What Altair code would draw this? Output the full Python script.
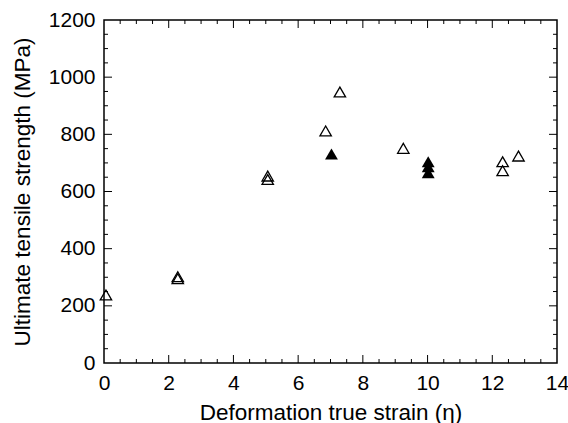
import altair as alt
import pandas as pd

# Data
open_x = [0.06, 2.28, 2.28, 5.06, 5.06, 6.85, 7.29, 9.25, 12.32, 12.32, 12.81]
open_y = [238, 302, 295, 654, 642, 812, 948, 751, 704, 673, 724]
filled_x = [7.03, 10.02, 10.02, 10.02]
filled_y = [731, 704, 687, 666]

x_labels = [0, 2, 4, 6, 8, 10, 12, 14]
y_labels = [0, 200, 400, 600, 800, 1000, 1200]
x_major = [2, 4, 6, 8, 10, 12]
x_minor = [0.5, 1, 1.5, 2.5, 3, 3.5, 4.5, 5, 5.5, 6.5, 7, 7.5, 8.5, 9, 9.5,
           10.5, 11, 11.5, 12.5, 13, 13.5]
y_major = [200, 400, 600, 800, 1000]
y_minor = [50, 100, 150, 250, 300, 350, 450, 500, 550, 650, 700, 750, 850,
           900, 950, 1050, 1100, 1150]

W, H = 453, 343
FONT = "Liberation Sans"
MAJ, MIN = 8, 4

xs = alt.Scale(domain=[0, 14], nice=False, zero=False)
ys = alt.Scale(domain=[0, 1200], nice=False, zero=False)

open_df = pd.DataFrame({"x": open_x, "y": open_y})
filled_df = pd.DataFrame({"x": filled_x, "y": filled_y})

x_axis = alt.Axis(values=x_labels, format="d", title="Deformation true strain (\u03b7)", grid=False,
                  ticks=False, domain=False, labelFlush=False, labelFontSize=21, labelFont=FONT,
                  labelColor="black", labelPadding=9, titleFontSize=22.5, titleFont=FONT,
                  titleFontWeight="normal", titleColor="black", titlePadding=8)
y_axis = alt.Axis(values=y_labels, format="d", title="Ultimate tensile strength (MPa)", grid=False,
                  ticks=False, domain=False, labelFlush=False, labelFontSize=21, labelFont=FONT,
                  labelColor="black", labelPadding=9, titleFontSize=22.5, titleFont=FONT,
                  titleFontWeight="normal", titleColor="black", titlePadding=14)

X = lambda: alt.X("x:Q", scale=xs, axis=x_axis)
Y = lambda: alt.Y("y:Q", scale=ys, axis=y_axis)

open_pts = alt.Chart(open_df).mark_point(
    shape="triangle-up", filled=False, color="black", size=130, strokeWidth=1.3, opacity=1
).encode(x=X(), y=Y())

filled_pts = alt.Chart(filled_df).mark_point(
    shape="triangle-up", filled=True, color="black", size=165, opacity=1
).encode(x=X(), y=Y())


def xticks(vals, length):
    df = pd.DataFrame({"x": vals})
    base = alt.Chart(df).mark_rule(color="black", strokeWidth=1)
    bottom = base.encode(x=X(), y=alt.value(H), y2=alt.value(H - length))
    top = base.encode(x=X(), y=alt.value(0), y2=alt.value(length))
    return [bottom, top]


def yticks(vals, length):
    df = pd.DataFrame({"y": vals})
    base = alt.Chart(df).mark_rule(color="black", strokeWidth=1)
    left = base.encode(y=Y(), x=alt.value(0), x2=alt.value(length))
    right = base.encode(y=Y(), x=alt.value(W), x2=alt.value(W - length))
    return [left, right]


layers = [open_pts, filled_pts]
layers += xticks(x_major, MAJ) + xticks(x_minor, MIN)
layers += yticks(y_major, MAJ) + yticks(y_minor, MIN)

chart = alt.layer(*layers).properties(
    width=W, height=H,
    autosize=alt.AutoSizeParams(type="none"),
    padding={"left": 104, "top": 20, "right": 11, "bottom": 60},
    background="white",
).configure_view(
    stroke="black", strokeWidth=1.5
)

chart.save("out.html", embed_options={"renderer": "svg", "actions": False})
